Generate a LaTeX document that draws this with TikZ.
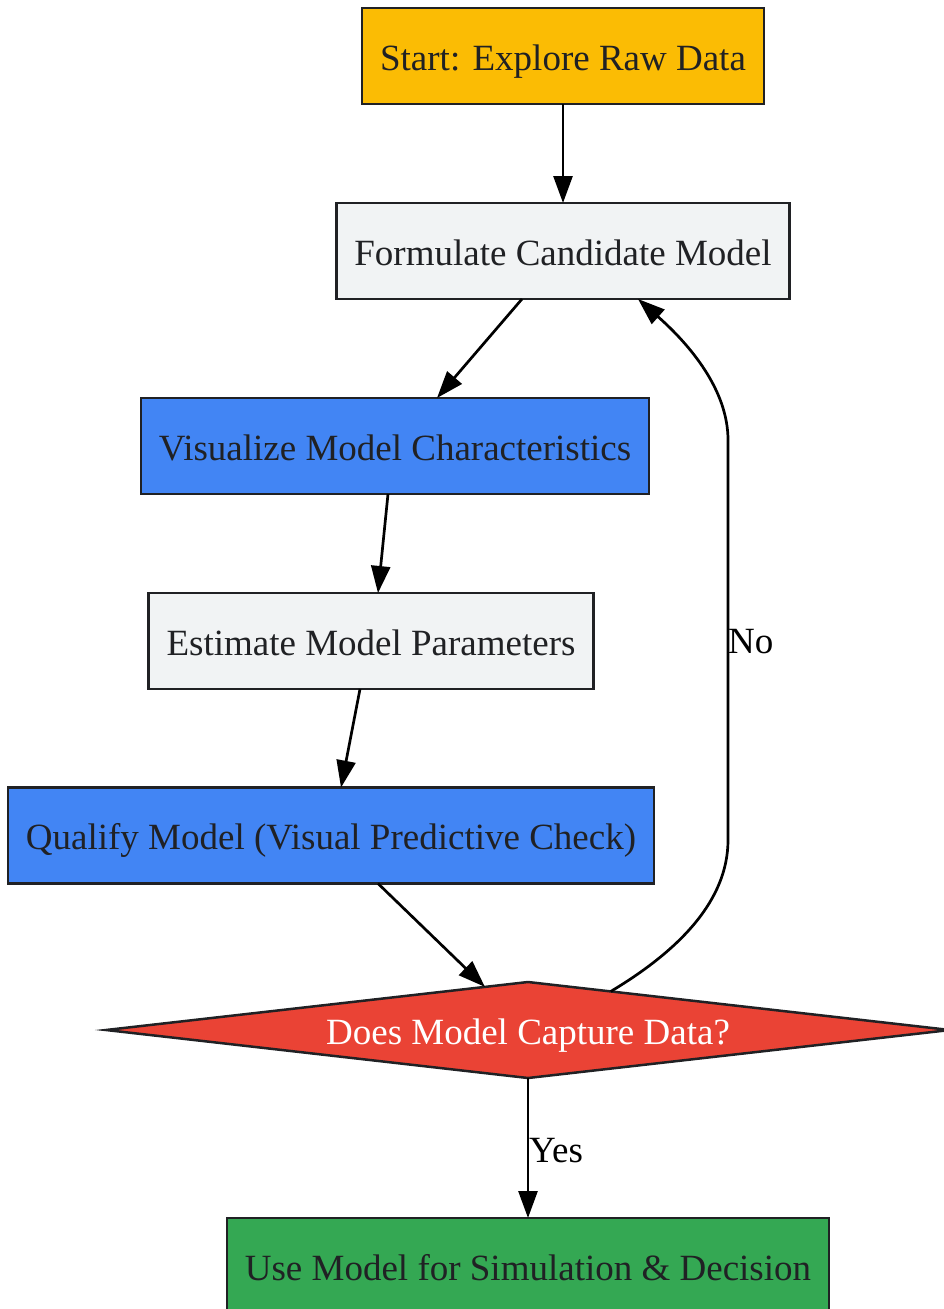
\documentclass[tikz,border=0pt]{standalone}
\usepackage{fontspec}
\setmainfont{Liberation Serif}
\usetikzlibrary{positioning, arrows.meta, shapes.geometric}
\definecolor{startfill}{HTML}{FBBC04}
\definecolor{stepfill}{HTML}{F1F3F4}
\definecolor{vizfill}{HTML}{4285F4}
\definecolor{askfill}{HTML}{EA4335}
\definecolor{usefill}{HTML}{34A853}
\definecolor{inkcol}{HTML}{202124}

\tikzset{
  box/.style={draw=inkcol, line width=2.5pt, minimum height=96pt, inner xsep=18pt,
    outer sep=0pt, text=inkcol, text height=30pt, text depth=2pt,
    font=\fontsize{37}{40}\selectfont},
  ask/.style={box, shape=diamond, shape aspect=8.8, minimum width=844pt, inner sep=0pt, text=white},
  flow/.style={-{Triangle[length=27pt,width=19pt]}, line width=2.7pt},
  lbl/.style={font=\fontsize{37}{40}\selectfont, inner sep=0pt, anchor=west}
}

\begin{document}
\begin{tikzpicture}[x=1pt, y=-1pt]
\useasboundingbox (0, 0) rectangle (943, 1309);

\node[box, fill=startfill] (start) at (563, 56){Start: Explore Raw Data};
\node[box, fill=stepfill] (formulate) at (563, 251){Formulate Candidate Model};
\node[box, fill=vizfill] (visualize) at (395, 446){Visualize Model Characteristics};
\node[box, fill=stepfill] (estimate) at (371, 641){Estimate Model Parameters};
\node[box, fill=vizfill] (qualify) at (331, 835.5){Qualify Model (Visual Predictive Check)};
\node[ask, fill=askfill] (capture) at (528, 1030){Does Model Capture Data?};
\node[box, fill=usefill] (use) at (528, 1266){Use Model for Simulation \& Decision};

\draw[flow] (start) -- (formulate);
\draw[flow] ([xshift=-41pt]formulate.south) -- ([xshift=42pt]visualize.north);
\draw[flow] ([xshift=-7pt]visualize.south) -- ([xshift=7pt]estimate.north);
\draw[flow] ([xshift=-11pt]estimate.south) -- ([xshift=10pt]qualify.north);
\draw[flow] ([xshift=47pt]qualify.south) -- (capture.135);

% back to the model when the check fails
\coordinate (bendlow) at (728, 840);
\coordinate (bendhigh) at (728, 440);
\draw[flow] (capture.25) .. controls (680, 950) and (728, 900) .. (bendlow)
  -- (bendhigh) .. controls (728, 390) and (690, 345) .. ([xshift=75pt]formulate.south);
\node[lbl] (nolabel) at (728, 642){No};

\draw[flow] (capture.south) -- (use.north);
\node[lbl] (yeslabel) at (529, 1151){Yes};
\end{tikzpicture}
\end{document}
